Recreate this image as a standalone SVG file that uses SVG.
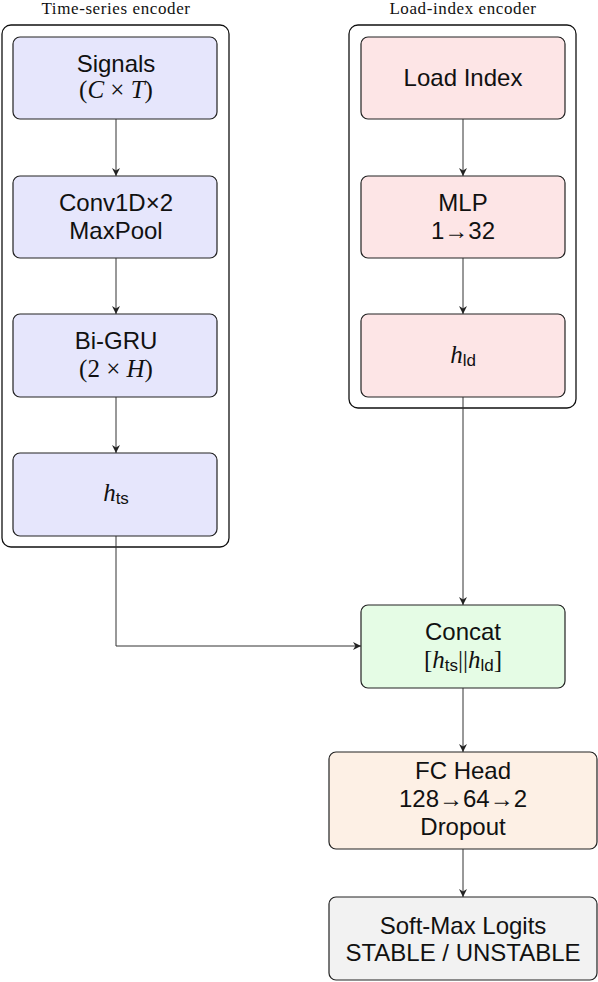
<svg xmlns="http://www.w3.org/2000/svg" width="598" height="982" viewBox="0 0 598 982">
<defs>
<marker id="ah" viewBox="0 0 10 10" refX="10" refY="5" markerWidth="8" markerHeight="8" markerUnits="userSpaceOnUse" orient="auto">
<path d="M0,0 L10,5 L0,10 L3,5 Z" fill="#222"/>
</marker>
</defs>
<style>
.grp{fill:none;stroke:#111;stroke-width:1.3}
.n{stroke:#222;stroke-width:1.2}
.ts{fill:#E6E6FC}
.ld{fill:#FDE5E6}
.cc{fill:#E5FCE5}
.fc{fill:#FDF0E5}
.sm{fill:#F2F2F2}
.t{font-family:"Liberation Sans",Arial,sans-serif;font-size:24px;fill:#111;text-anchor:middle}
.m{font-family:"Liberation Serif","Times New Roman",serif;font-size:25px;fill:#111;text-anchor:middle}
.i{font-style:italic}
.sub{font-family:"Liberation Sans",Arial,sans-serif;font-size:17px}
.title{font-family:"Liberation Serif","Times New Roman",serif;font-size:17px;letter-spacing:0.6px;fill:#111;text-anchor:middle}
.c{fill:none;stroke:#333;stroke-width:1;marker-end:url(#ah)}
</style>
<g id="ts-encoder">
<rect class="grp" x="2" y="25" width="227" height="522" rx="9"/>
<text class="title" x="116" y="14">Time-series encoder</text>
</g>
<g id="ld-encoder">
<rect class="grp" x="349" y="25" width="227" height="383" rx="9"/>
<text class="title" x="463" y="14">Load-index encoder</text>
</g>
<g id="signals">
<rect class="n ts" x="13" y="37" width="204" height="82" rx="7"/>
<text class="t" x="116" y="72">Signals</text>
<text class="m" x="116" y="98">(<tspan class="i">C</tspan> × <tspan class="i">T</tspan>)</text>
</g>
<g id="conv">
<rect class="n ts" x="13" y="176" width="204" height="82" rx="7"/>
<text class="t" x="116" y="211">Conv1D×2</text>
<text class="t" x="116" y="239">MaxPool</text>
</g>
<g id="bigru">
<rect class="n ts" x="13" y="314" width="204" height="83" rx="7"/>
<text class="t" x="116" y="349">Bi-GRU</text>
<text class="m" x="116" y="377">(2 × <tspan class="i">H</tspan>)</text>
</g>
<g id="hts">
<rect class="n ts" x="13" y="453" width="204" height="83" rx="7"/>
<text class="m" x="116" y="501"><tspan class="i">h</tspan><tspan class="sub" dy="3">ts</tspan></text>
</g>
<g id="loadindex">
<rect class="n ld" x="361" y="37" width="204" height="82" rx="7"/>
<text class="t" x="463" y="86">Load Index</text>
</g>
<g id="mlp">
<rect class="n ld" x="361" y="176" width="204" height="82" rx="7"/>
<text class="t" x="463" y="211">MLP</text>
<text class="t" x="463" y="239">1→32</text>
</g>
<g id="hld">
<rect class="n ld" x="361" y="314" width="204" height="83" rx="7"/>
<text class="m" x="463" y="363"><tspan class="i">h</tspan><tspan class="sub" dy="3">ld</tspan></text>
</g>
<g id="concat">
<rect class="n cc" x="361" y="605" width="204" height="83" rx="7"/>
<text class="t" x="463" y="640">Concat</text>
<text class="m" x="463" y="668">[<tspan class="i">h</tspan><tspan class="sub" dy="3">ts</tspan><tspan dy="-3">||</tspan><tspan class="i">h</tspan><tspan class="sub" dy="3">ld</tspan><tspan dy="-3">]</tspan></text>
</g>
<g id="fchead">
<rect class="n fc" x="329" y="752" width="268" height="97" rx="7"/>
<text class="t" x="463" y="779">FC Head</text>
<text class="t" x="463" y="807">128→64→2</text>
<text class="t" x="463" y="835">Dropout</text>
</g>
<g id="softmax">
<rect class="n sm" x="329" y="897" width="268" height="83" rx="7"/>
<text class="t" x="463" y="934">Soft-Max Logits</text>
<text class="t" x="463" y="961">STABLE / UNSTABLE</text>
</g>
<g id="connectors">
<path class="c" d="M116,119 V176"/>
<path class="c" d="M116,258 V314"/>
<path class="c" d="M116,397 V453"/>
<path class="c" d="M463,119 V176"/>
<path class="c" d="M463,258 V314"/>
<path class="c" d="M116,536 V646 H361"/>
<path class="c" d="M463,397 V605"/>
<path class="c" d="M463,688 V752"/>
<path class="c" d="M463,849 V897"/>
</g>
</svg>
